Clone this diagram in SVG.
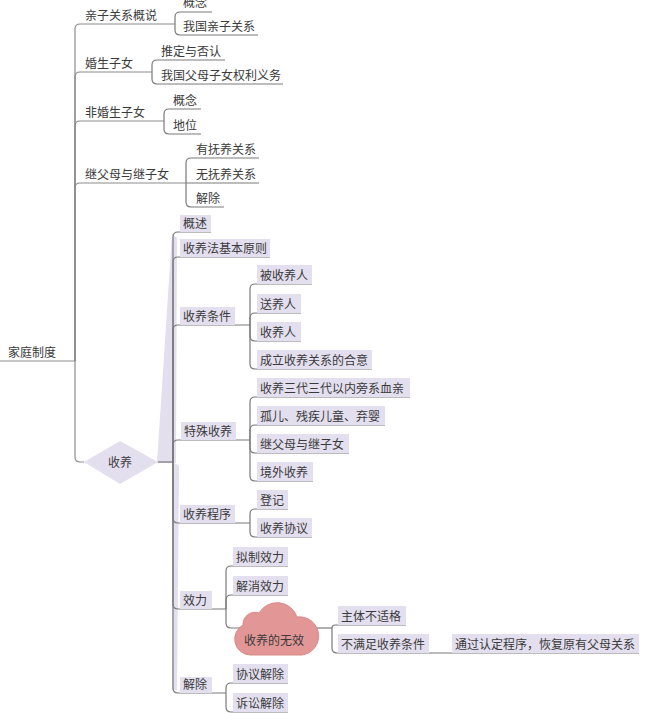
<svg xmlns="http://www.w3.org/2000/svg" width="648" height="713" viewBox="0 0 648 713">
<style>
text{font-family:"Noto Sans CJK SC","Liberation Sans",sans-serif;font-size:12px;fill:#3a3a3a}
.rl{fill:none;stroke:#8c8c8c;stroke-width:1.2}
.cl{fill:none;stroke:#7a7a7a;stroke-width:1.2}
.bg{fill:#e3dfee}
.wedge{fill:#e3dfee}
</style>
<rect width="648" height="713" fill="#fff"/>
<g id="wedges">
<polygon class="wedge" points="157,463 172,234 177,238 176,463"/>
<polygon class="wedge" points="173,462 179,466 177,690 172,690"/>
</g>
<g id="connectors">
<path class="rl" d="M0,361 H75"/>
<path class="rl" d="M75,361 V29 Q75,24 80,24 H175"/>
<path class="rl" d="M75,361 V77 Q75,72 80,72 H152"/>
<path class="rl" d="M75,361 V126 Q75,121 80,121 H164"/>
<path class="rl" d="M75,361 V188 Q75,183 80,183 H186"/>
<path class="rl" d="M75,361 V457 Q75,462 80,462 H84"/>
<path class="cl" d="M175,24 V17 Q175,12 180,12 H212"/>
<path class="cl" d="M175,24 V30 Q175,35 180,35 H258"/>
<path class="cl" d="M152,72 V65 Q152,60 157,60 H225"/>
<path class="cl" d="M152,72 V79 Q152,84 157,84 H283"/>
<path class="cl" d="M164,121 V114 Q164,109 169,109 H201"/>
<path class="cl" d="M164,121 V129 Q164,134 169,134 H201"/>
<path class="cl" d="M186,183 V163 Q186,158 191,158 H259"/>
<path class="cl" d="M186,183 H259"/>
<path class="cl" d="M186,183 V202 Q186,207 191,207 H224"/>
<path class="cl" d="M158,462 H173"/>
<path class="cl" d="M173,462 V237 Q173,232 178,232 H211"/>
<path class="cl" d="M173,462 V262 Q173,257 178,257 H270"/>
<path class="cl" d="M173,462 V330 Q173,325 178,325 H250"/>
<path class="cl" d="M173,462 V445 Q173,440 178,440 H250"/>
<path class="cl" d="M173,462 V518 Q173,523 178,523 H250"/>
<path class="cl" d="M173,462 V604 Q173,609 178,609 H226"/>
<path class="cl" d="M173,462 V688 Q173,693 178,693 H226"/>
<path class="cl" d="M250,325 V289 Q250,284 255,284 H312"/>
<path class="cl" d="M250,325 V318 Q250,313 255,313 H301"/>
<path class="cl" d="M250,325 V336 Q250,341 255,341 H301"/>
<path class="cl" d="M250,325 V364 Q250,369 255,369 H372"/>
<path class="cl" d="M250,440 V402 Q250,397 255,397 H410"/>
<path class="cl" d="M250,440 V430 Q250,425 255,425 H385"/>
<path class="cl" d="M250,440 V448 Q250,453 255,453 H349"/>
<path class="cl" d="M250,440 V476 Q250,481 255,481 H313"/>
<path class="cl" d="M250,523 V514 Q250,509 255,509 H288"/>
<path class="cl" d="M250,523 V532 Q250,537 255,537 H312"/>
<path class="cl" d="M226,609 V571 Q226,566 231,566 H288"/>
<path class="cl" d="M226,609 V600 Q226,595 231,595 H288"/>
<path class="cl" d="M226,609 V623 Q226,628 231,628 H240"/>
<path class="cl" d="M315,628 H332"/>
<path class="cl" d="M332,628 Q332,625 335,625 H406"/>
<path class="cl" d="M332,628 V648 Q332,653 337,653 H639"/>
<path class="cl" d="M226,693 V688 Q226,683 231,683 H288"/>
<path class="cl" d="M226,693 V707 Q226,712 231,712 H288"/>
</g>
<g id="n-root"><text x="8" y="357">家庭制度</text></g>
<g id="n-qinzi"><text x="85" y="20">亲子关系概说</text></g>
<g id="n-qinzi-gn"><text x="183" y="7">概念</text></g>
<g id="n-qinzi-wg"><text x="183" y="31">我国亲子关系</text></g>
<g id="n-hunsheng"><text x="85" y="68">婚生子女</text></g>
<g id="n-tuiding"><text x="161" y="56">推定与否认</text></g>
<g id="n-quanli"><text x="161" y="80">我国父母子女权利义务</text></g>
<g id="n-feihun"><text x="85" y="117">非婚生子女</text></g>
<g id="n-feihun-gn"><text x="173" y="105">概念</text></g>
<g id="n-diwei"><text x="173" y="130">地位</text></g>
<g id="n-jifumu"><text x="85" y="179">继父母与继子女</text></g>
<g id="n-youfu"><text x="196" y="154">有抚养关系</text></g>
<g id="n-wufu"><text x="196" y="179">无抚养关系</text></g>
<g id="n-jiechu1"><text x="196" y="203">解除</text></g>
<g id="n-shouyang"><polygon points="84,462 120,441 158,462 120,484" fill="#e3dfee"/><text x="120" y="467" text-anchor="middle">收养</text></g>
<g id="n-gaishu"><rect class="bg" x="180" y="215" width="31" height="17"/><text x="183" y="228">概述</text></g>
<g id="n-yuanze"><rect class="bg" x="180" y="239" width="90" height="18"/><text x="183" y="253">收养法基本原则</text></g>
<g id="n-tiaojian"><rect class="bg" x="180" y="307" width="55" height="18"/><text x="183" y="321">收养条件</text></g>
<g id="n-beishou"><rect class="bg" x="257" y="265" width="55" height="19"/><text x="260" y="280">被收养人</text></g>
<g id="n-songyang"><rect class="bg" x="257" y="294" width="44" height="19"/><text x="260" y="309">送养人</text></g>
<g id="n-shouyangren"><rect class="bg" x="257" y="322" width="44" height="19"/><text x="260" y="337">收养人</text></g>
<g id="n-heyi"><rect class="bg" x="257" y="350" width="115" height="19"/><text x="260" y="365">成立收养关系的合意</text></g>
<g id="n-teshu"><rect class="bg" x="181" y="422" width="55" height="18"/><text x="184" y="436">特殊收养</text></g>
<g id="n-sandai"><rect class="bg" x="257" y="378" width="153" height="19"/><text x="260" y="393">收养三代三代以内旁系血亲</text></g>
<g id="n-guer"><rect class="bg" x="257" y="406" width="128" height="19"/><text x="260" y="421">孤儿、残疾儿童、弃婴</text></g>
<g id="n-jifumu2"><rect class="bg" x="257" y="434" width="92" height="19"/><text x="260" y="449">继父母与继子女</text></g>
<g id="n-jingwai"><rect class="bg" x="257" y="462" width="56" height="19"/><text x="260" y="477">境外收养</text></g>
<g id="n-chengxu"><rect class="bg" x="180" y="505" width="55" height="18"/><text x="183" y="519">收养程序</text></g>
<g id="n-dengji"><rect class="bg" x="257" y="490" width="31" height="19"/><text x="260" y="505">登记</text></g>
<g id="n-xieyi"><rect class="bg" x="257" y="518" width="55" height="19"/><text x="260" y="533">收养协议</text></g>
<g id="n-xiaoli"><rect class="bg" x="180" y="591" width="32" height="18"/><text x="183" y="605">效力</text></g>
<g id="n-nizhi"><rect class="bg" x="233" y="547" width="55" height="19"/><text x="236" y="562">拟制效力</text></g>
<g id="n-jiexiao"><rect class="bg" x="233" y="576" width="55" height="19"/><text x="236" y="591">解消效力</text></g>
<g id="n-wuxiao"><path d="M250,655 A16,16 0 0 1 243,625 A12,12 0 0 1 259,613 A21,21 0 0 1 297,617 A19,19 0 0 1 302,655 Z" fill="#e29796" stroke="#d98a89" stroke-width="1"/><text x="274" y="645" text-anchor="middle">收养的无效</text></g>
<g id="n-zhuti"><rect class="bg" x="338" y="606" width="68" height="19"/><text x="341" y="621">主体不适格</text></g>
<g id="n-bumanzu"><rect class="bg" x="338" y="634" width="91" height="19"/><text x="341" y="649">不满足收养条件</text></g>
<g id="n-huifu"><rect class="bg" x="452" y="634" width="187" height="19"/><text x="455" y="649">通过认定程序，恢复原有父母关系</text></g>
<g id="n-jiechu2"><rect class="bg" x="180" y="677" width="32" height="16"/><text x="183" y="689">解除</text></g>
<g id="n-xieyijc"><rect class="bg" x="233" y="664" width="55" height="19"/><text x="236" y="679">协议解除</text></g>
<g id="n-susong"><rect class="bg" x="233" y="693" width="55" height="19"/><text x="236" y="708">诉讼解除</text></g>
</svg>
